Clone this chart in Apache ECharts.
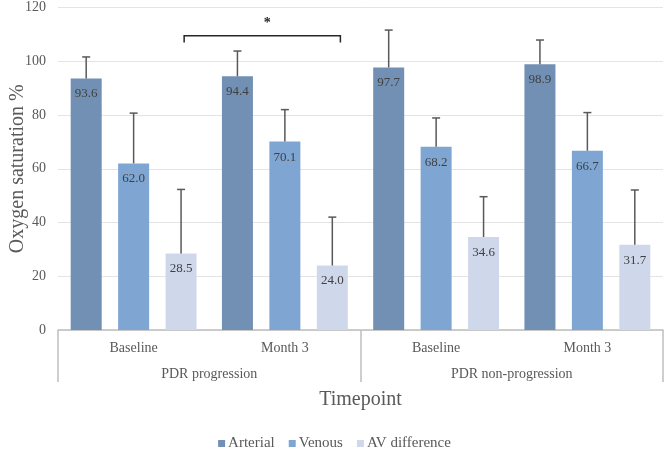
<!DOCTYPE html>
<html>
<head>
<meta charset="utf-8">
<script src="https://cdn.jsdelivr.net/npm/echarts@6/dist/echarts.min.js"></script>
<style>html,body{margin:0;padding:0;background:#fff}#c{width:669px;height:452px}</style>
</head>
<body>
<div id="c"></div>
<script>
var categories = ['Baseline', 'Month 3', 'Baseline', 'Month 3'];
var groups = ['PDR progression', 'PDR non-progression'];
var seriesNames = ['Arterial', 'Venous', 'AV difference'];
var arterial = [93.6, 94.4, 97.7, 98.9];
var venous = [62.0, 70.1, 68.2, 66.7];
var avDiff = [28.5, 24.0, 34.6, 31.7];
var arterialHigh = [101.6, 103.8, 111.6, 107.9];
var venousHigh = [80.7, 82.0, 78.9, 80.9];
var avDiffHigh = [52.3, 42.0, 49.6, 52.1];
var yTicks = [0, 20, 40, 60, 80, 100, 120];
// significance bracket: from/to [categoryIndex, offset within band], level
var bracketFrom = [0, 0.334];
var bracketTo = [1, 0.367];
var bracketLevel = 109.5;
var bracketDrop = 2.5;
var bracketLabel = '*';

var colors = ['#7290B4', '#7FA6D3', '#CFD8EA'];
var FONT = '"Liberation Serif", "Times New Roman", serif';
var BAR_W = 0.205, BAR_GAP = 0.53;
var values = [arterial, venous, avDiff];
var highs = [arterialHigh, venousHigh, avDiffHigh];

var chart = echarts.init(document.getElementById('c'));

var series = [];
values.forEach(function (vals, s) {
  series.push({
    name: seriesNames[s], type: 'bar', data: vals, xAxisIndex: 0,
    barWidth: (BAR_W * 100) + '%', barGap: (BAR_GAP * 100) + '%',
    itemStyle: { color: colors[s] },
    label: { show: true, position: 'insideTop', distance: 9, formatter: function (p) { return p.value.toFixed(1); },
      fontFamily: FONT, fontSize: 13, color: '#404040' },
    z: 2
  });
});
values.forEach(function (vals, s) {
  var d = vals.map(function (v, i) { return [i, v, highs[s][i]]; });
  series.push({
    type: 'custom', xAxisIndex: 0, data: d, z: 3, silent: true,
    renderItem: function (params, api) {
      var band = api.size([1, 0])[0];
      var off = (s - 1) * band * BAR_W * (1 + BAR_GAP);
      var p0 = api.coord([api.value(0), api.value(1)]);
      var p1 = api.coord([api.value(0), api.value(2)]);
      var x = p0[0] + off;
      var st = { stroke: '#595959', lineWidth: 1.5 };
      return { type: 'group', children: [
        { type: 'line', shape: { x1: x, y1: p0[1], x2: x, y2: p1[1] }, style: st },
        { type: 'line', shape: { x1: x - 4, y1: p1[1], x2: x + 4, y2: p1[1] }, style: st }
      ]};
    }
  });
});
series.push({
  type: 'custom', xAxisIndex: 0, data: [[bracketFrom[0], bracketLevel]], z: 3, silent: true,
  renderItem: function (params, api) {
    var band = api.size([1, 0])[0];
    var a = api.coord([bracketFrom[0], bracketLevel]);
    var b = api.coord([bracketTo[0], bracketLevel]);
    var lo = api.coord([bracketFrom[0], bracketLevel - bracketDrop]);
    var x1 = a[0] + bracketFrom[1] * band, x2 = b[0] + bracketTo[1] * band;
    var st = { stroke: '#262626', lineWidth: 1.5, fill: null };
    return { type: 'group', children: [
      { type: 'polyline', shape: { points: [[x1, lo[1]], [x1, a[1]], [x2, a[1]], [x2, lo[1]]] }, style: st },
      { type: 'text', style: { text: bracketLabel, x: (x1 + x2) / 2 + 5, y: a[1] - 12, align: 'center', verticalAlign: 'middle',
        font: 'bold 14px ' + FONT, fill: '#262626' } }
    ]};
  }
});

chart.setOption({
  animation: false,
  textStyle: { fontFamily: FONT },
  grid: { left: 58, right: 6, top: 7.5, bottom: 122, containLabel: false, outerBoundsMode: 'none' },
  legend: {
    data: seriesNames, top: 431, left: 'center', itemWidth: 7, itemHeight: 7, itemGap: 14,
    icon: 'rect', textStyle: { fontFamily: FONT, fontSize: 15, color: '#595959', padding: [0, 0, 0, -2] }
  },
  xAxis: [{
    type: 'category', data: categories,
    axisLine: { lineStyle: { color: '#BFBFBF', width: 1.5 } },
    axisTick: { show: false },
    axisLabel: { fontFamily: FONT, fontSize: 14, color: '#595959', margin: 11 },
    name: 'Timepoint', nameLocation: 'middle', nameGap: 60, nameMoveOverlap: false,
    nameTextStyle: { fontFamily: FONT, fontSize: 20, color: '#595959' }
  }, {
    type: 'category', data: groups, position: 'bottom',
    axisLine: { show: false },
    axisTick: { show: true, length: 52, lineStyle: { color: '#BFBFBF', width: 1.5 } },
    axisLabel: { fontFamily: FONT, fontSize: 14, color: '#595959', margin: 37 }
  }],
  yAxis: {
    type: 'value', min: yTicks[0], max: yTicks[yTicks.length - 1], interval: yTicks[1] - yTicks[0],
    axisLine: { show: false }, axisTick: { show: false },
    splitLine: { lineStyle: { color: '#E4E4E4', width: 1 } },
    axisLabel: { fontFamily: FONT, fontSize: 14, color: '#595959', margin: 12 },
    name: 'Oxygen saturation %', nameLocation: 'middle', nameGap: 30, nameMoveOverlap: false,
    nameTextStyle: { fontFamily: FONT, fontSize: 20, color: '#595959' }
  },
  series: series
});
</script>
</body>
</html>
